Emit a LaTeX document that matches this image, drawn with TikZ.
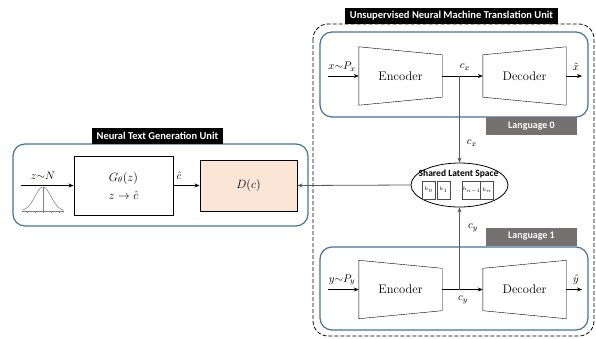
\documentclass[tikz,border=0pt]{standalone}
\usepackage{fontspec}
\newfontfamily\labelfont{Carlito}
\usetikzlibrary{arrows.meta,calc,shapes.geometric}
\definecolor{unitblue}{RGB}{65,113,156}
\definecolor{langgray}{RGB}{118,113,113}
\definecolor{dpeach}{RGB}{251,229,214}
\definecolor{linkgray}{RGB}{89,89,89}
\definecolor{gausspurple}{RGB}{112,88,170}
\begin{document}
\begin{tikzpicture}
		[	x=1pt,y=-1pt,
		unit/.style={draw=unitblue,line width=1.2pt,rounded corners=12pt},
		title/.style={fill=black,text=white,font=\labelfont\bfseries\fontsize{10.5}{12}\selectfont,inner xsep=5pt,minimum height=16pt},
		lang/.style={fill=langgray,text=white,font=\labelfont\bfseries\fontsize{10}{12}\selectfont,minimum width=91pt,minimum height=18pt},
		coder/.style={draw=none,minimum width=83pt,minimum height=58pt,inner sep=0pt,font=\fontsize{12.5}{14}\selectfont},
		box/.style={draw=black,line width=0.9pt,align=center,inner sep=0pt,font=\fontsize{11.5}{13}\selectfont},
		hbox/.style={draw=black!70,thin,minimum width=13pt,minimum height=18pt,inner sep=0pt,font=\fontsize{5}{6}\selectfont},
		plain/.style={draw=none,fill=none,font=\fontsize{11}{13}\selectfont},
		link/.style={-{Stealth[length=5pt,width=4pt]},thick},
		]
		\useasboundingbox (0,0) rectangle (596,338);

		% translation unit
		\draw[thick,dash pattern=on 4pt off 2pt,rounded corners=15pt] (313,24) rectangle (594,336);
		\node[title] (nmt) at (451.5,16) {Unsupervised Neural Machine Translation Unit};
		\draw[unit] (320,32) rectangle (588,117);
		\draw[unit] (320,247) rectangle (588,330);
		\node[lang] (lang0) at (531.5,126) {Language 0};
		\node[lang] (lang1) at (531.5,236.5) {Language 1};

		\node[coder] (enc0) at (400.5,76) {Encoder};
		\node[coder] (dec0) at (524.5,76) {Decoder};
		\node[coder] (enc1) at (400.5,289.5) {Encoder};
		\node[coder] (dec1) at (524.5,289.5) {Decoder};
		\foreach \n in {enc0,enc1}
			\draw (\n.north west) -- ($(\n.north east)+(0,8)$) -- ($(\n.south east)+(0,-8)$) -- (\n.south west) -- cycle;
		\foreach \n in {dec0,dec1}
			\draw ($(\n.north west)+(0,8)$) -- (\n.north east) -- (\n.south east) -- ($(\n.south west)+(0,-8)$) -- cycle;

		\coordinate (xin) at (328,76);
		\coordinate (xout) at (582,76);
		\coordinate (yin) at (328,289.5);
		\coordinate (yout) at (582,289.5);
		\draw[link] (xin) -- (enc0.west);
		\draw[link] (enc0.east) -- (dec0.west);
		\draw[link] (dec0.east) -- (xout);
		\draw[link] (yin) -- (enc1.west);
		\draw[link] (enc1.east) -- (dec1.west);
		\draw[link] (dec1.east) -- (yout);
		\node[plain] at (342,67) {$x{\sim}P_x$};
		\node[plain] at (465,67) {$c_x$};
		\node[plain] at (576,67) {$\tilde{x}$};
		\node[plain] at (342,280) {$y{\sim}P_y$};
		\node[plain] at (463,300) {$c_y$};
		\node[plain] at (576,280) {$\hat{y}$};

		% shared latent space
		\node[draw=black,thick,ellipse,minimum width=97pt,minimum height=44pt,inner sep=0pt] (latent) at (459.5,185) {};
		\node[plain,font=\labelfont\bfseries\fontsize{9.5}{10}\selectfont] at (458.5,174) {Shared Latent Space};
		\node[hbox] (h0) at (428.5,190) {$h_0$};
		\node[hbox] (h1) at (443.5,190) {$h_1$};
		\node[plain,font=\fontsize{5}{6}\selectfont] at (456.5,191) {$\ldots$};
		\node[hbox] (h2) at (471.5,190) {$h_{n-1}$};
		\node[hbox] (h3) at (487,190) {$h_n$};
		\draw[link,linkgray] (enc0.east -| latent.north) -- (latent.north);
		\draw[link,linkgray] (enc1.east -| latent.south) -- (latent.south);
		\node[plain] at (472,143) {$c_x$};
		\node[plain] at (473,228) {$c_y$};

		% text generation unit
		\draw[unit] (13,144) rectangle (308,226);
		\node[title] (ntg) at (157.5,135.5) {Neural Text Generation Unit};
		\node[box,minimum width=99pt,minimum height=59pt] (gen) at (123.5,185.5) {$G_\theta(z)$\\[5pt] $z\rightarrow\hat{c}$};
		\node[box,fill=dpeach,minimum width=97pt,minimum height=51pt,font=\fontsize{12.5}{14}\selectfont] (disc) at (248.5,185.5) {$D(c)$};
		\coordinate (zin) at (21,185.5);
		\draw[link] (zin) -- (gen.west);
		\draw[link] (gen.east) -- (disc.west);
		\draw[link,linkgray] (latent.west) -- (disc.east);
		\node[plain] at (43,176) {$z{\sim}N$};
		\node[plain] at (179,176) {$\hat{c}$};

		% prior density
		\draw[gray,thin] (22,211) -- (64,211);
		\foreach \t in {27,35,43,51,59}
			\draw[gray,thin] (\t,211) -- (\t,212.5);
		\draw[gray,thin] (43,211) -- (43,187);
		\draw[gausspurple,thin,smooth,domain=-2.6:2.6,samples=40] plot ({43+8*\x},{211-24*exp(-\x*\x/2)});
	\end{tikzpicture}
\end{document}
